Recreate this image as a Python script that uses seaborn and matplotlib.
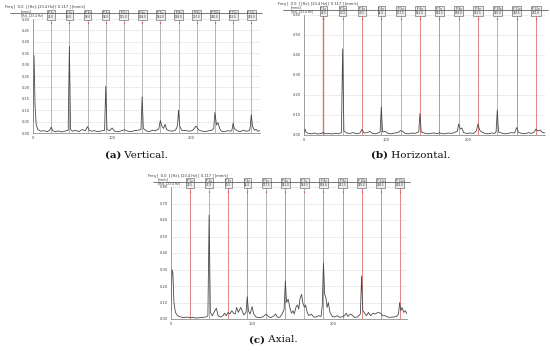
import numpy as np
import matplotlib
matplotlib.use("Agg")
import matplotlib.pyplot as plt
import matplotlib.transforms as mtransforms
import seaborn as sns

# spectrum readings (Hz, mm/s) for the three directions
a_freq = [0, 1.3, 2.6, 4, 6, 10, 14, 18, 21, 23, 25, 28, 32, 36, 40, 44.5, 46, 47.5,
          50, 54, 58, 62, 66, 69, 71, 74, 78, 82, 86, 90.5, 92, 93.5, 97, 100, 103,
          108, 112, 116, 120, 124, 128, 132, 136.5, 138, 139.5, 143, 147, 151, 155,
          159, 161, 163, 165, 167, 169, 172, 176, 180, 182, 183, 184, 185.5, 188,
          194, 198, 202, 206, 210, 214, 218, 222, 226, 228.5, 230, 232, 234, 236,
          238, 242, 246, 250, 251.5, 253, 254.5, 258, 262, 266, 270, 273, 274.5,
          276, 277.5, 280, 282, 284, 287]
a_amp = [0.05, 0.34, 0.12, 0.04, 0.015, 0.008, 0.010, 0.006, 0.012, 0.026, 0.010, 0.006,
         0.009, 0.005, 0.008, 0.012, 0.38, 0.015, 0.008, 0.012, 0.006, 0.015, 0.010,
         0.028, 0.012, 0.008, 0.010, 0.006, 0.009, 0.012, 0.205, 0.015, 0.010, 0.022,
         0.008, 0.006, 0.010, 0.014, 0.008, 0.006, 0.010, 0.012, 0.015, 0.158, 0.020,
         0.010, 0.006, 0.012, 0.010, 0.018, 0.055, 0.030, 0.020, 0.038, 0.015, 0.010,
         0.008, 0.012, 0.025, 0.045, 0.10, 0.030, 0.012, 0.010, 0.008, 0.012, 0.030,
         0.012, 0.008, 0.006, 0.010, 0.012, 0.020, 0.09, 0.035, 0.045, 0.020, 0.008,
         0.006, 0.010, 0.008, 0.012, 0.043, 0.020, 0.010, 0.006, 0.012, 0.008, 0.010,
         0.020, 0.08, 0.030, 0.012, 0.016, 0.008, 0.010]

b_freq = [0, 1.3, 2.5, 5, 9, 13, 17, 21, 23.5, 26, 30, 34, 38, 42, 45.5, 47, 48.5, 52, 56,
          60, 64, 68, 70.5, 73, 77, 80, 83, 87, 90, 92.5, 94, 95.5, 99, 102, 106, 110,
          114, 117.5, 120, 123, 127, 131, 135, 139.5, 141, 142.5, 146, 150, 154, 158,
          162, 164.5, 167, 171, 175, 179, 183, 186.5, 188, 190, 192, 194, 198, 202, 206,
          209.5, 211.5, 213.5, 216, 220, 224, 228, 232, 233.5, 235, 236.5, 240, 244,
          248, 252, 256, 258.5, 261, 265, 269, 273, 277, 280, 282, 284, 287, 290, 293]
b_amp = [0.010, 0.030, 0.015, 0.008, 0.006, 0.010, 0.005, 0.008, 0.012, 0.006, 0.008,
         0.005, 0.009, 0.006, 0.012, 0.43, 0.020, 0.010, 0.008, 0.012, 0.006, 0.010,
         0.028, 0.010, 0.012, 0.018, 0.008, 0.006, 0.010, 0.015, 0.14, 0.015, 0.018,
         0.008, 0.006, 0.010, 0.012, 0.022, 0.018, 0.008, 0.006, 0.010, 0.008, 0.015,
         0.108, 0.015, 0.010, 0.006, 0.008, 0.010, 0.006, 0.012, 0.008, 0.006, 0.010,
         0.008, 0.012, 0.020, 0.055, 0.030, 0.035, 0.012, 0.008, 0.010, 0.008, 0.020,
         0.055, 0.025, 0.015, 0.008, 0.006, 0.010, 0.008, 0.015, 0.125, 0.015, 0.010,
         0.006, 0.008, 0.012, 0.010, 0.037, 0.012, 0.008, 0.006, 0.012, 0.008, 0.015,
         0.030, 0.020, 0.025, 0.012, 0.010]

c_freq = [0, 1.2, 2.3, 3.6, 5.5, 8, 12, 16, 20, 23.5, 27, 31, 35, 39, 43, 45.5, 47, 48.5,
          51, 54, 56, 58, 61, 64, 66, 68, 70.5, 72.5, 75, 77, 79, 81, 83, 86, 88, 90,
          92.5, 94, 95.5, 97.5, 100, 102, 105, 109, 113, 117.5, 120, 123, 127, 129,
          131, 134, 137, 139.5, 141, 142.5, 144.5, 146.5, 148.5, 150.5, 152, 154, 156,
          157.5, 159, 161, 162.5, 164.5, 166, 168, 170, 173, 176, 179, 182, 185, 186.5,
          188, 189.5, 191, 192.5, 194, 196, 199, 202, 205, 208, 211.5, 214, 216, 218,
          221, 223, 226, 230, 233.5, 235, 236.5, 239, 241, 243.5, 246, 249, 252, 255,
          258.5, 261, 264, 267, 270, 274, 278, 280.5, 282, 283.5, 285, 287, 289, 291]
c_amp = [0.05, 0.30, 0.28, 0.10, 0.04, 0.02, 0.012, 0.008, 0.012, 0.008, 0.010, 0.006,
         0.008, 0.010, 0.012, 0.020, 0.63, 0.040, 0.020, 0.050, 0.065, 0.020, 0.012,
         0.020, 0.035, 0.020, 0.040, 0.030, 0.050, 0.035, 0.030, 0.070, 0.040, 0.070,
         0.045, 0.025, 0.040, 0.135, 0.050, 0.030, 0.075, 0.030, 0.012, 0.008, 0.012,
         0.030, 0.015, 0.008, 0.020, 0.030, 0.012, 0.010, 0.030, 0.060, 0.23, 0.10,
         0.12, 0.07, 0.035, 0.05, 0.03, 0.07, 0.085, 0.06, 0.12, 0.15, 0.10, 0.07,
         0.085, 0.04, 0.02, 0.03, 0.012, 0.012, 0.02, 0.015, 0.08, 0.34, 0.15, 0.13,
         0.07, 0.10, 0.04, 0.015, 0.012, 0.02, 0.01, 0.015, 0.02, 0.035, 0.015, 0.03,
         0.025, 0.01, 0.012, 0.03, 0.26, 0.05, 0.035, 0.02, 0.04, 0.02, 0.035, 0.03,
         0.04, 0.035, 0.02, 0.02, 0.012, 0.01, 0.012, 0.015, 0.03, 0.10, 0.05, 0.07,
         0.04, 0.05, 0.03]

# harmonic cursor colours ("r" red line, "g" grey line)
a_cursor = list("gggggggggggg")
b_cursor = list("rgrrgrrgrgrr")
c_cursor = list("rgrrgrgrrrrr")

RED = "#e07070"
GREY = "#aaaaaa"

sns.set_theme(style="white")
plt.rcParams["font.family"] = ["DejaVu Sans"]

fig = plt.figure(figsize=(5.5, 3.51), dpi=100)
W, H = 550, 351


def px_rect(x0, y0, x1, y1):
    return [x0 / W, 1 - y1 / H, (x1 - x0) / W, (y1 - y0) / H]


def panel(rect, freq, amp, f0, xmax, ymax, ystep, cursor, head_xy, line_x1, lw_first=0.6):
    ax = fig.add_axes(px_rect(*rect))
    ax.set_xlim(0, xmax)
    ax.set_ylim(0, ymax)
    ax.set_yticks(np.arange(0, ymax + 1e-9, ystep))
    ax.set_yticklabels([f"{v:.2f}" for v in np.arange(0, ymax + 1e-9, ystep)])
    ax.set_xticks([0, 100, 200])
    ax.tick_params(labelsize=2.6, length=1, width=0.3, pad=1, colors="#444")
    ax.yaxis.grid(True, ls=":", color="#bbbbbb", lw=0.5)
    for s in ["top", "right"]:
        ax.spines[s].set_visible(False)
    for s in ["left", "bottom"]:
        ax.spines[s].set_color("#777")
        ax.spines[s].set_linewidth(0.5)

    trans = mtransforms.blended_transform_factory(ax.transData, ax.transAxes)
    for k, c in enumerate(cursor, start=1):
        fx = k * f0
        col = RED if c == "r" else GREY
        lw = 1.0 if (k == 1 and c == "r" and lw_first > 0.6) else 0.6
        ax.axvline(fx, color=col, lw=lw, zorder=1)
        ax.plot(fx, 0.965, marker="v", ms=1.2, color="#d04040", transform=trans,
                clip_on=False, zorder=3, mew=0)
        ax.text(fx, 1.0, f"P {k}x\n{fx:.1f}", transform=trans, ha="center", va="bottom",
                fontsize=2.0, color="#333", linespacing=1.0,
                bbox=dict(boxstyle="square,pad=0.25", fc="#eeeeee", ec="#555", lw=0.4))

    sns.lineplot(x=freq, y=amp, ax=ax, color="#4a4a4a", lw=0.6, sort=False, zorder=2)

    ax.text(-0.055, 1.01, "[mm/s]\n[Hz], [23.4 Hz]", transform=ax.transAxes,
            fontsize=2.2, ha="left", va="bottom", color="#333", linespacing=1.0)

    hx, hy = head_xy
    fig.text(hx / W, 1 - hy / H, "Freq [  0.0  ] [Hz], [23.4 Hz] [ 0.117 ] [mm/s]",
             fontsize=2.6, color="#333", va="center")
    fig.add_artist(plt.Line2D([(hx + 5) / W, line_x1 / W],
                              [1 - (hy + 5.5) / H] * 2, color="#444", lw=0.5))
    return ax


panel((33, 19, 260, 133), a_freq, a_amp, 23.0, 287, 0.5, 0.05, a_cursor, (5, 7), 262)
panel((304, 15, 545, 135), b_freq, b_amp, 23.5, 293, 0.6, 0.1, b_cursor, (278, 4), 548, 1.0)
panel((171, 187, 407, 319), c_freq, c_amp, 23.5, 291, 0.8, 0.1, c_cursor, (148, 176), 410)

cap_font = dict(family="DejaVu Serif", fontsize=7.5, color="#111", va="center")
for x0, y0, tag, name in [(121, 155, "(a)", " Vertical."),
                          (388, 155, "(b)", " Horizontal."),
                          (265, 340, "(c)", " Axial.")]:
    fig.text(x0 / W, 1 - y0 / H, tag, ha="right", fontweight="bold", **cap_font)
    fig.text(x0 / W, 1 - y0 / H, name, ha="left", **cap_font)

fig.savefig("out.png", dpi=100, facecolor="white")
